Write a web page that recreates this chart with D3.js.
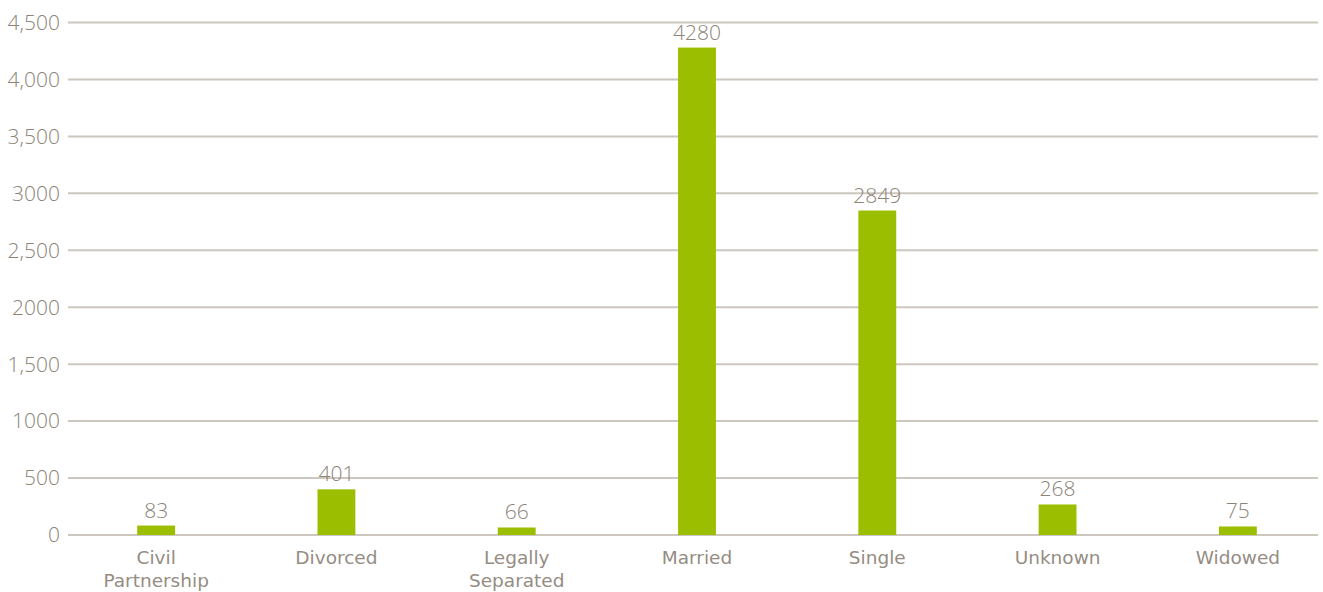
<!DOCTYPE html>
<html>
<head>
<meta charset="utf-8">
<script src="https://cdn.jsdelivr.net/npm/d3@7"></script>
<style>
  body { margin: 0; background: #fff; }
</style>
</head>
<body>
<script>
// marital status counts
const categories = [["Civil", "Partnership"], ["Divorced"], ["Legally", "Separated"], ["Married"], ["Single"], ["Unknown"], ["Widowed"]];
const values = [83, 401, 66, 4280, 2849, 268, 75];
const tickValues = [0, 500, 1000, 1500, 2000, 2500, 3000, 3500, 4000, 4500];
const tickLabels = ["0", "500", "1000", "1,500", "2000", "2,500", "3000", "3,500", "4,000", "4,500"];

const width = 1323, height = 592;
const textColor = "#8c8379";
const gridColor = "#cdc8bf";
const barColor = "#9bbf00";

const svg = d3.select("body").append("svg")
    .attr("width", width)
    .attr("height", height);

let data = categories.map((c, i) => ({ key: c.join(" "), lines: c, value: values[i] }));

const x = d3.scaleBand()
    .domain(data.map(d => d.key))
    .range([66, 1328])
    .paddingInner(0.79)
    .paddingOuter(0.395);

const y = d3.scaleLinear()
    .domain([0, 4500])
    .range([535, 22.5]);

// gridlines + tick labels
const grid = svg.append("g");
grid.selectAll("line")
    .data(tickValues)
    .join("line")
    .attr("x1", 68)
    .attr("x2", 1318)
    .attr("y1", d => y(d))
    .attr("y2", d => y(d))
    .attr("stroke", gridColor)
    .attr("stroke-width", 2);

grid.selectAll("text")
    .data(tickValues)
    .join("text")
    .attr("x", 60)
    .attr("y", d => y(d))
    .attr("dy", "0.35em")
    .attr("text-anchor", "end")
    .style("font", "300 21px 'Open Sans', sans-serif")
    .attr("fill", textColor)
    .text((d, i) => tickLabels[i]);

// bars
svg.append("g")
    .selectAll("rect")
    .data(data)
    .join("rect")
    .attr("x", d => x(d.key))
    .attr("width", x.bandwidth())
    .attr("y", d => y(d.value))
    .attr("height", d => y(0) - y(d.value))
    .attr("fill", barColor);

// value labels
svg.append("g")
    .selectAll("text")
    .data(data)
    .join("text")
    .attr("x", d => x(d.key) + x.bandwidth() / 2)
    .attr("y", d => y(d.value) - 8)
    .attr("text-anchor", "middle")
    .style("font", "300 21px 'Open Sans', sans-serif")
    .attr("fill", textColor)
    .text(d => d.value);

// category labels
const cat = svg.append("g")
    .selectAll("text")
    .data(data)
    .join("text")
    .attr("text-anchor", "middle")
    .style("font", "18.5px 'DejaVu Sans', sans-serif")
    .attr("fill", "#958c83");

cat.selectAll("tspan")
    .data(d => d.lines.map(l => ({ l, cx: x(d.key) + x.bandwidth() / 2 })))
    .join("tspan")
    .attr("x", d => d.cx)
    .attr("y", (d, i) => 564 + i * 23)
    .text(d => d.l);
</script>
</body>
</html>
